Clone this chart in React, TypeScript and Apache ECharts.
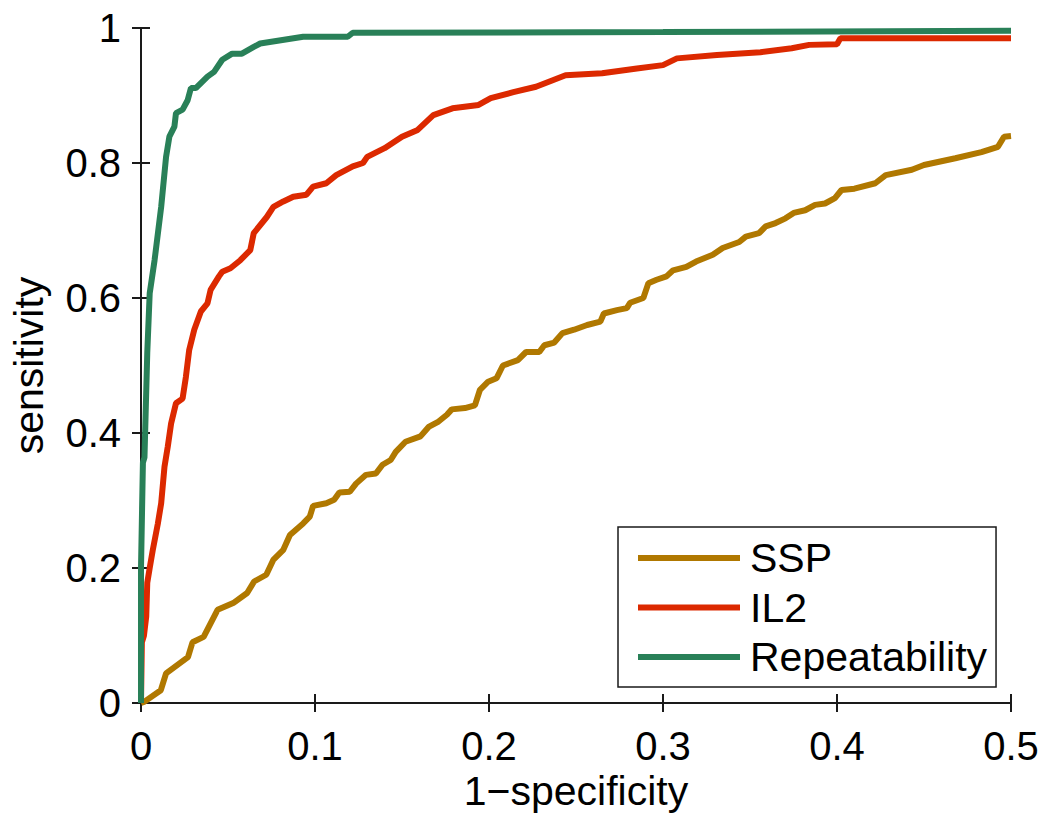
import React, { useEffect, useRef } from "react";
import * as echarts from "echarts";

const xTicks = [0, 0.1, 0.2, 0.3, 0.4, 0.5];
const yTicks = [0, 0.2, 0.4, 0.6, 0.8, 1];
const seriesNames = ["SSP", "IL2", "Repeatability"];

const sspX = [0, 0.002, 0.0114, 0.0144, 0.027, 0.0296, 0.036, 0.044, 0.053, 0.061, 0.065, 0.072, 0.076, 0.0818, 0.0856, 0.0932, 0.097, 0.0989, 0.1065, 0.111, 0.114, 0.12, 0.1236, 0.1293, 0.135, 0.1388, 0.1435, 0.1464, 0.152, 0.1606, 0.1653, 0.171, 0.1758, 0.1786, 0.1862, 0.1919, 0.1948, 0.1995, 0.2043, 0.208, 0.2166, 0.2213, 0.2289, 0.2318, 0.2375, 0.2422, 0.2489, 0.2564, 0.264, 0.266, 0.2735, 0.2792, 0.2811, 0.2887, 0.2916, 0.2963, 0.302, 0.3058, 0.3134, 0.319, 0.3286, 0.3343, 0.3438, 0.3476, 0.3552, 0.359, 0.3647, 0.3704, 0.3751, 0.3817, 0.3874, 0.3931, 0.3988, 0.4026, 0.41, 0.422, 0.428, 0.443, 0.45, 0.468, 0.483, 0.4925, 0.496, 0.5];
const sspY = [0, 0.002, 0.019, 0.044, 0.068, 0.09, 0.098, 0.138, 0.148, 0.163, 0.18, 0.19, 0.212, 0.227, 0.249, 0.266, 0.276, 0.292, 0.296, 0.301, 0.312, 0.313, 0.325, 0.338, 0.34, 0.353, 0.36, 0.372, 0.387, 0.395, 0.409, 0.417, 0.427, 0.435, 0.437, 0.441, 0.464, 0.476, 0.481, 0.5, 0.508, 0.52, 0.52, 0.53, 0.534, 0.548, 0.553, 0.56, 0.565, 0.577, 0.582, 0.585, 0.593, 0.6, 0.622, 0.627, 0.632, 0.641, 0.646, 0.654, 0.664, 0.674, 0.683, 0.691, 0.696, 0.706, 0.711, 0.718, 0.726, 0.73, 0.738, 0.74, 0.748, 0.76, 0.762, 0.77, 0.782, 0.79, 0.797, 0.807, 0.816, 0.824, 0.839, 0.84];

const il2X = [0, 0.0005, 0.0017, 0.003, 0.0036, 0.005, 0.0068, 0.0097, 0.0116, 0.0135, 0.0154, 0.0173, 0.0201, 0.0239, 0.0258, 0.0277, 0.0306, 0.0344, 0.0382, 0.04, 0.0448, 0.0467, 0.0514, 0.0571, 0.0628, 0.0648, 0.0723, 0.0761, 0.0818, 0.0875, 0.0951, 0.0989, 0.1065, 0.1122, 0.1217, 0.1276, 0.13, 0.14, 0.15, 0.159, 0.168, 0.179, 0.194, 0.201, 0.214, 0.227, 0.237, 0.244, 0.265, 0.285, 0.3, 0.308, 0.331, 0.356, 0.374, 0.384, 0.4, 0.402, 0.5];
const il2Y = [0, 0.09, 0.1, 0.128, 0.178, 0.2, 0.227, 0.266, 0.296, 0.35, 0.38, 0.414, 0.444, 0.451, 0.483, 0.523, 0.553, 0.58, 0.592, 0.612, 0.632, 0.639, 0.644, 0.656, 0.671, 0.696, 0.72, 0.735, 0.743, 0.75, 0.753, 0.765, 0.77, 0.782, 0.795, 0.8, 0.809, 0.822, 0.839, 0.849, 0.871, 0.881, 0.886, 0.896, 0.905, 0.913, 0.923, 0.93, 0.933, 0.94, 0.945, 0.955, 0.96, 0.964, 0.97, 0.975, 0.976, 0.985, 0.985];

const repX = [0, 0, 0.0011, 0.002, 0.0036, 0.005, 0.0078, 0.0116, 0.0144, 0.0163, 0.0192, 0.0201, 0.0239, 0.0268, 0.0287, 0.0315, 0.0382, 0.042, 0.0467, 0.0524, 0.058, 0.0648, 0.0685, 0.0932, 0.1188, 0.1217, 0.3, 0.5];
const repY = [0, 0.2, 0.356, 0.364, 0.519, 0.607, 0.656, 0.735, 0.809, 0.839, 0.854, 0.874, 0.879, 0.893, 0.911, 0.911, 0.928, 0.935, 0.953, 0.962, 0.962, 0.972, 0.977, 0.987, 0.987, 0.993, 0.994, 0.996];

const colors = ["#B07800", "#DC2900", "#298058"];

const zip = (xs: number[], ys: number[]) => xs.map((x, i) => [x, ys[i]]);

export default function App() {
  const ref = useRef<HTMLDivElement>(null);
  useEffect(() => {
    if (!ref.current) return;
    const chart = echarts.init(ref.current, undefined, { renderer: "svg" });
    const font = "Liberation Sans, Arial, sans-serif";
    const axisLine = { show: true, lineStyle: { color: "#1a1a1a", width: 2 } };
    const axisTick = { show: true, inside: false, length: 9, lineStyle: { color: "#1a1a1a", width: 2 } };
    const xBase = {
      type: "value" as const,
      min: xTicks[0],
      max: xTicks[xTicks.length - 1],
      interval: 0.1,
      splitLine: { show: false },
      axisLine,
      axisTick,
    };
    const yBase = {
      type: "value" as const,
      min: yTicks[0],
      max: yTicks[yTicks.length - 1],
      interval: 0.2,
      splitLine: { show: false },
      axisLine,
      axisTick,
    };
    const data = [zip(sspX, sspY), zip(il2X, il2Y), zip(repX, repY)];
    chart.setOption({
      animation: false,
      backgroundColor: "#ffffff",
      textStyle: { fontFamily: font },
      grid: { left: 133, right: 39, top: 28, bottom: 117, containLabel: false },
      xAxis: [
        {
          ...xBase,
          position: "bottom",
          name: "1\u2212specificity",
          nameLocation: "middle",
          nameGap: 63,
          nameTextStyle: { fontSize: 41, color: "#000", fontFamily: font },
          axisLabel: { show: true, fontSize: 40, color: "#000", margin: 23, fontFamily: font },
        },
        { ...xBase, position: "top", axisLabel: { show: false } },
      ],
      yAxis: [
        {
          ...yBase,
          position: "left",
          name: "sensitivity",
          nameLocation: "middle",
          nameGap: 92,
          nameTextStyle: { fontSize: 41, color: "#000", fontFamily: font },
          axisLabel: { show: true, fontSize: 40, color: "#000", margin: 20, fontFamily: font },
        },
        { ...yBase, position: "right", axisLabel: { show: false } },
      ],
      legend: {
        show: true,
        orient: "vertical",
        left: 618,
        top: 527,
        data: seriesNames,
        icon: "rect",
        backgroundColor: "#ffffff",
        borderColor: "#1a1a1a",
        borderWidth: 1.5,
        borderRadius: 0,
        padding: [10.5, 9, 9.5, 20],
        itemWidth: 102,
        itemHeight: 6,
        itemGap: 8.5,
        textStyle: { fontSize: 41, color: "#000", fontFamily: font, lineHeight: 41, padding: [0, 0, 0, 5] },
      },
      series: seriesNames.map((name, i) => ({
        name,
        type: "line",
        xAxisIndex: 0,
        yAxisIndex: 0,
        data: data[i],
        showSymbol: false,
        symbol: "none",
        color: colors[i],
        itemStyle: { color: colors[i] },
        lineStyle: { color: colors[i], width: 6 },
        z: 2 + i,
      })),
    });
    return () => chart.dispose();
  }, []);
  return (
    <div
      ref={ref}
      style={{ position: "fixed", left: 0, top: 0, width: 1050, height: 820, background: "#fff" }}
    />
  );
}
